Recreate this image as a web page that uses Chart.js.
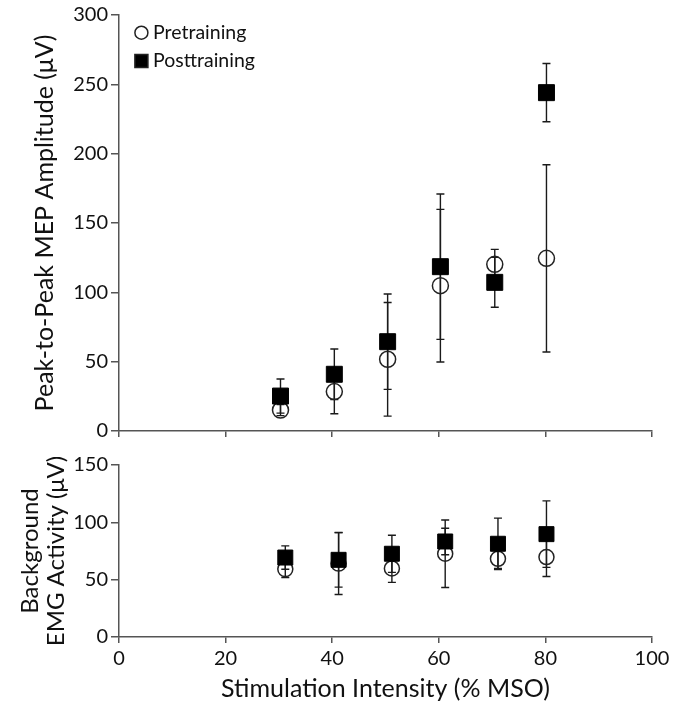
<!DOCTYPE html>
<html><head><meta charset="utf-8">
<script src="https://cdn.jsdelivr.net/npm/chart.js@4.4.1/dist/chart.umd.min.js"></script>
<style>
html,body{margin:0;padding:0;background:#fff;}
#wrap{position:relative;width:675px;height:719px;overflow:hidden;}
canvas{position:absolute;left:0;}
#c1{top:0;}
#c2{top:440px;}
</style></head><body>
<div id="wrap"><canvas id="c1" width="675" height="452"></canvas><canvas id="c2" width="675" height="279"></canvas></div>
<script>
// ---- data ----
const seriesNames = ['Pretraining', 'Posttraining'];
const xTickValues = [0, 20, 40, 60, 80, 100];

const mepX = [30.3, 40.4, 50.4, 60.3, 70.5, 80.2];
const mepPre = [15.1, 28.4, 51.7, 104.8, 120.2, 124.5];
const mepPreErr = [4, 16, 41, 55, 10.8, 67.5];
const mepPost = [25.2, 40.9, 64.4, 118.5, 107.2, 244];
const mepPostErr = [12.3, 18.2, 34.4, 52.4, 18, 21];
const mepYTicks = [0, 50, 100, 150, 200, 250, 300];

const emgX = [31.2, 41.2, 51.2, 61.2, 71.1, 80.2];
const emgPre = [59.2, 64, 59.8, 72.6, 68.2, 69.7];
const emgPreErr = [7.3, 27, 12.2, 29.4, 8.4, 16.9];
const emgPost = [69.3, 67.3, 72.6, 83.3, 81.3, 89.7];
const emgPostErr = [10.2, 23.8, 16.2, 11.6, 22.4, 29];
const emgYTicks = [0, 50, 100, 150];

const xTitle = 'Stimulation Intensity (% MSO)';
const mepTitle = 'Peak-to-Peak MEP Amplitude (\u03BCV)';
const emgTitle = ['Background', 'EMG Activity (\u03BCV)'];

// ---- styling ----
const FONT = 'Lato';
const AXIS = '#555555';
const INK = '#111111';
Chart.defaults.font.family = FONT;
Chart.defaults.color = INK;

const pts = (xs, ys) => xs.map((x, i) => ({x: x, y: ys[i]}));

const errorBars = {
  id: 'errorBars',
  beforeDatasetsDraw(chart) {
    const ctx = chart.ctx, xs = chart.scales.x, ys = chart.scales.y;
    ctx.save();
    ctx.strokeStyle = '#1a1a1a';
    ctx.lineWidth = 1.4;
    chart.data.datasets.forEach(ds => {
      ds.data.forEach((p, i) => {
        const e = ds.errors[i];
        const px = xs.getPixelForValue(p.x);
        const y1 = ys.getPixelForValue(p.y + e), y2 = ys.getPixelForValue(p.y - e);
        ctx.beginPath();
        ctx.moveTo(px, y1); ctx.lineTo(px, y2);
        ctx.moveTo(px - 4, y1); ctx.lineTo(px + 4, y1);
        ctx.moveTo(px - 4, y2); ctx.lineTo(px + 4, y2);
        ctx.stroke();
      });
    });
    ctx.restore();
  }
};

const legendBox = {
  id: 'legendBox',
  afterDraw(chart) {
    const ctx = chart.ctx, a = chart.chartArea;
    const x = a.left + 22.4;
    const rows = [{y: a.top + 17.7, style: 'circle', r: 6.5, fill: 'rgba(0,0,0,0)'},
                  {y: a.top + 46, style: 'rect', r: 9.2, fill: '#000'}];
    ctx.save();
    rows.forEach((row, i) => {
      ctx.fillStyle = row.fill;
      ctx.strokeStyle = '#222';
      ctx.lineWidth = 1.5;
      Chart.helpers.drawPoint(ctx, {pointStyle: row.style, radius: row.r, borderWidth: 1.5, rotation: 0}, x, row.y);
      ctx.fillStyle = INK;
      ctx.font = '19.5px ' + FONT;
      ctx.textBaseline = 'middle';
      ctx.textAlign = 'left';
      ctx.fillText(seriesNames[i], x + 11.6, row.y);
    });
    ctx.restore();
  }
};

function makeDatasets(x, pre, preErr, post, postErr, rc, rs) {
  return [
    {label: seriesNames[0], data: pts(x, pre), errors: preErr, order: 1,
     pointStyle: 'circle', pointRadius: rc, pointBorderWidth: 1.5,
     pointBorderColor: '#222', pointBackgroundColor: 'rgba(0,0,0,0)', showLine: false},
    {label: seriesNames[1], data: pts(x, post), errors: postErr, order: 0,
     pointStyle: 'rect', pointRadius: rs, pointBorderWidth: 1,
     pointBorderColor: '#000', pointBackgroundColor: '#000', showLine: false}
  ];
}

function axisX(showLabels, fitHeight, withTitle) {
  return {
    type: 'linear', min: xTickValues[0], max: xTickValues[xTickValues.length - 1],
    afterBuildTicks: s => { s.ticks = xTickValues.map(v => ({value: v})); },
    ticks: {display: showLabels, font: {size: 20}, color: INK, padding: 4},
    grid: {display: true, drawOnChartArea: false, drawTicks: true, tickLength: 6, color: AXIS, lineWidth: 1.5},
    border: {display: true, color: AXIS, width: 1.5},
    title: withTitle ? {display: true, text: xTitle, font: {size: 25}, color: INK, padding: {top: 0, bottom: 15}} : {display: false},
    afterFit: s => { s.height = fitHeight; }
  };
}

function axisY(ticks, title, titleFont, titlePad) {
  return {
    type: 'linear', min: ticks[0], max: ticks[ticks.length - 1],
    afterBuildTicks: s => { s.ticks = ticks.map(v => ({value: v})); },
    ticks: {font: {size: 20}, color: INK, padding: 3},
    grid: {display: true, drawOnChartArea: false, drawTicks: true, tickLength: 8, color: AXIS, lineWidth: 1.5},
    border: {display: true, color: AXIS, width: 1.5},
    title: {display: true, text: title, font: titleFont, color: INK, padding: {top: titlePad, bottom: 0}},
    afterFit: s => { s.width = 119; }
  };
}

const common = {
  responsive: false, animation: false, devicePixelRatio: 1, events: [],
  plugins: {legend: {display: false}, tooltip: {enabled: false}}
};

new Chart(document.getElementById('c1'), {
  type: 'scatter',
  data: {datasets: makeDatasets(mepX, mepPre, mepPreErr, mepPost, mepPostErr, 8, 11.3)},
  options: Object.assign({}, common, {
    layout: {padding: {top: 15, right: 23, left: 0, bottom: 0}},
    scales: {x: axisX(false, 21, false), y: axisY(mepYTicks, mepTitle, {size: 25, lineHeight: 1.2}, 29.5)}
  }),
  plugins: [errorBars, legendBox]
});

new Chart(document.getElementById('c2'), {
  type: 'scatter',
  data: {datasets: makeDatasets(emgX, emgPre, emgPreErr, emgPost, emgPostErr, 7.5, 10.6)},
  options: Object.assign({}, common, {
    layout: {padding: {top: 25, right: 23, left: 0, bottom: 0}},
    scales: {x: axisX(true, 82, true), y: axisY(emgYTicks, emgTitle, {size: 24, lineHeight: 1.08}, 17)}
  }),
  plugins: [errorBars]
});
</script>
</body></html>
